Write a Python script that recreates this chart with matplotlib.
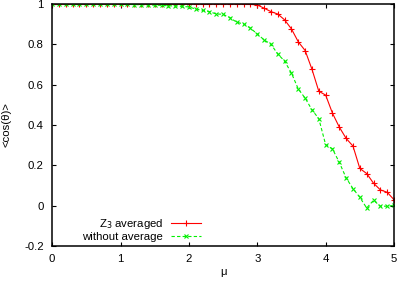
import numpy as np
import matplotlib
matplotlib.use("Agg")
import matplotlib.pyplot as plt

# mu values, 0.0 .. 5.0 step 0.1
mu = [round(0.1 * i, 1) for i in range(51)]

z3_averaged = [1.0] * 29 + [
    0.998, 0.995, 0.979, 0.962, 0.950, 0.921, 0.876, 0.812, 0.769, 0.676,
    0.567, 0.548, 0.458, 0.389, 0.333, 0.295, 0.184, 0.159, 0.111, 0.078,
    0.066, 0.029,
]

without_average = [1.0] * 10 + [
    0.999, 0.998, 0.997, 0.996, 0.995, 0.994, 0.993, 0.991, 0.990, 0.988,
    0.985, 0.975, 0.968, 0.962, 0.950, 0.949, 0.932, 0.909, 0.901, 0.880,
    0.851, 0.822, 0.800, 0.752, 0.716, 0.657, 0.578, 0.533, 0.475, 0.431,
    0.302, 0.281, 0.214, 0.137, 0.084, 0.041, -0.012, 0.026, -0.003, -0.003,
    0.001,
]

xticks = [0, 1, 2, 3, 4, 5]
yticks = [-0.2, 0, 0.2, 0.4, 0.6, 0.8, 1]

plt.rcParams['font.family'] = ['Liberation Sans', 'DejaVu Sans']
plt.rcParams['font.size'] = 8.2

fig = plt.figure(figsize=(3.98, 2.82), dpi=100)
ax = fig.add_axes([0.131, 0.128, 0.859, 0.858])

ax.plot(mu, z3_averaged, color='#ff0000', lw=0.8, marker='+', ms=4,
        mew=0.8, label='Z$_3$ averaged')
ax.plot(mu, without_average, color='#00f000', lw=0.8, ls=(0, (3, 2)),
        marker='x', ms=3.5, mew=0.8, label='without average')

ax.set_xlim(0, 5)
ax.set_ylim(-0.2, 1)
ax.set_xticks(xticks)
ax.set_xticklabels([str(t) for t in xticks])
ax.set_yticks(yticks)
ax.set_yticklabels(['-0.2', '0', '0.2', '0.4', '0.6', '0.8', '1'])
ax.tick_params(direction='in', length=3, width=0.8, top=True, right=True,
               pad=6)
for s in ax.spines.values():
    s.set_linewidth(1.1)

ax.set_xlabel('μ', labelpad=2)
ax.set_ylabel('<cos(θ)>')
ax.yaxis.set_label_coords(-0.118, 0.5)

leg = ax.legend(loc='lower left', bbox_to_anchor=(0.065, -0.015),
                frameon=False, markerfirst=False, handlelength=2.6,
                handletextpad=0.7, labelspacing=0.05, borderpad=0.2)
# right-justify the legend text like gnuplot does
leg._legend_handle_box.get_children()[0].align = 'right'

fig.savefig('out.png', dpi=100)
